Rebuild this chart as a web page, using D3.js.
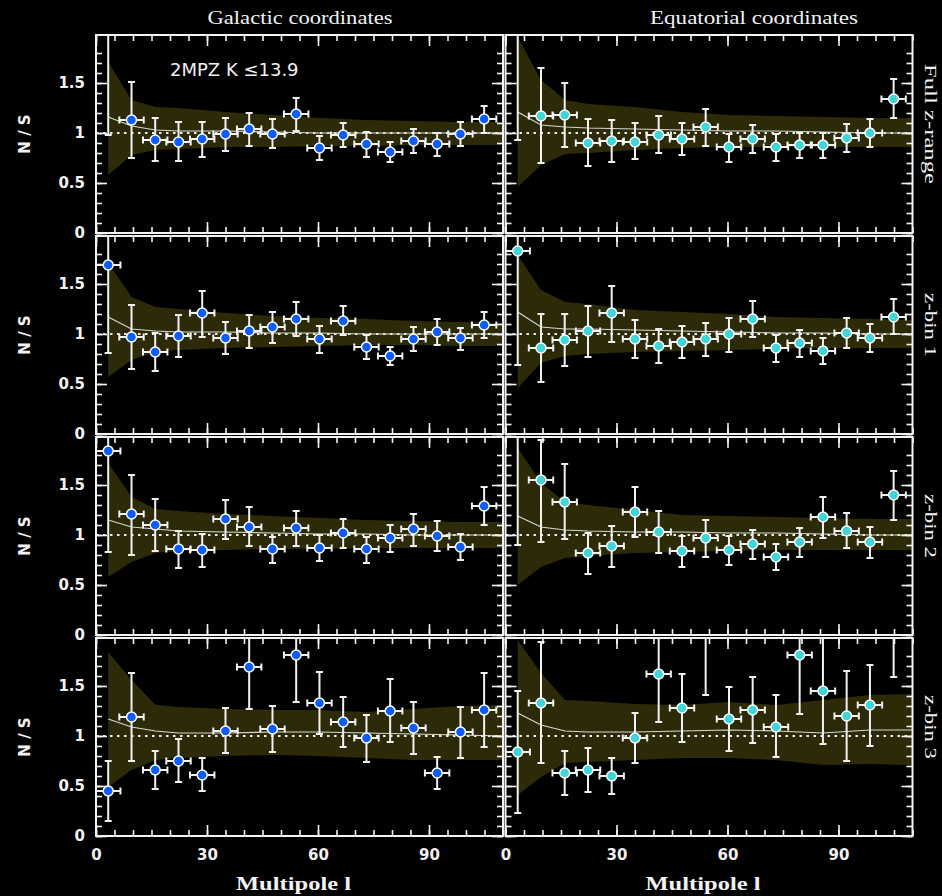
<!DOCTYPE html>
<html>
<head>
<meta charset="utf-8">
<script src="https://cdn.jsdelivr.net/npm/d3@7"></script>
<style>
body { margin: 0; background: #000; }
</style>
</head>
<body>
<div id="chart"></div>
<script>
// multipole bin centres and half width
var multipoles = [3.3, 9.6, 16.0, 22.3, 28.7, 35.0, 41.4, 47.7, 54.1, 60.4, 66.8, 73.1, 79.5, 85.8, 92.2, 98.5, 104.9];
var binHalfWidth = 3.3;

// panels: galFull, eqFull, galBin1, eqBin1, galBin2, eqBin2, galBin3, eqBin3
var rowLabels = ["Full z-range", "z-bin 1", "z-bin 2", "z-bin 3"];
var colTitles = ["Galactic coordinates", "Equatorial coordinates"];

var nsValues = [
  [2.2, 1.13, 0.93, 0.91, 0.94, 0.99, 1.04, 0.99, 1.19, 0.85, 0.98, 0.89, 0.81, 0.92, 0.89, 0.99, 1.14],
  [2.2, 1.17, 1.18, 0.90, 0.92, 0.91, 0.98, 0.94, 1.06, 0.86, 0.94, 0.86, 0.88, 0.88, 0.95, 1.00, 1.34],
  [1.69, 0.97, 0.82, 0.98, 1.21, 0.96, 1.03, 1.07, 1.15, 0.95, 1.13, 0.87, 0.78, 0.95, 1.02, 0.96, 1.09],
  [1.83, 0.86, 0.94, 1.03, 1.21, 0.95, 0.88, 0.92, 0.95, 1.00, 1.15, 0.86, 0.91, 0.83, 1.01, 0.96, 1.17],
  [1.84, 1.21, 1.10, 0.86, 0.85, 1.16, 1.08, 0.86, 1.07, 0.87, 1.02, 0.86, 0.97, 1.06, 0.99, 0.88, 1.29],
  [2.3, 1.55, 1.33, 0.82, 0.89, 1.23, 1.03, 0.84, 0.97, 0.85, 0.91, 0.78, 0.93, 1.18, 1.04, 0.93, 1.40],
  [0.45, 1.19, 0.66, 0.75, 0.61, 1.05, 1.69, 1.07, 1.81, 1.33, 1.14, 0.98, 1.25, 1.08, 0.63, 1.04, 1.26],
  [0.84, 1.33, 0.63, 0.66, 0.60, 0.98, 1.62, 1.28, 2.2, 1.17, 1.26, 1.09, 1.81, 1.45, 1.20, 1.31, 2.2]
];
var nsLow = [
  [0.98, 0.75, 0.72, 0.72, 0.76, 0.82, 0.87, 0.85, 1.02, 0.73, 0.86, 0.76, 0.71, 0.80, 0.77, 0.87, 1.00],
  [0.93, 0.70, 0.86, 0.67, 0.71, 0.74, 0.80, 0.78, 0.87, 0.71, 0.80, 0.72, 0.75, 0.75, 0.81, 0.86, 1.15],
  [0.81, 0.65, 0.63, 0.77, 0.97, 0.80, 0.86, 0.91, 0.98, 0.81, 0.99, 0.75, 0.69, 0.83, 0.89, 0.84, 0.96],
  [0.69, 0.52, 0.68, 0.77, 0.92, 0.76, 0.71, 0.76, 0.78, 0.82, 0.97, 0.72, 0.77, 0.70, 0.86, 0.82, 1.00],
  [0.83, 0.80, 0.84, 0.67, 0.68, 0.96, 0.89, 0.72, 0.89, 0.74, 0.87, 0.72, 0.83, 0.89, 0.84, 0.75, 1.10],
  [0.90, 0.93, 0.96, 0.61, 0.68, 0.98, 0.82, 0.68, 0.78, 0.70, 0.76, 0.65, 0.78, 0.97, 0.87, 0.77, 1.15],
  [0.15, 0.75, 0.47, 0.54, 0.45, 0.83, 1.27, 0.84, 1.34, 1.02, 0.89, 0.74, 0.94, 0.82, 0.47, 0.78, 0.89],
  [0.23, 0.73, 0.41, 0.44, 0.42, 0.73, 1.14, 0.94, 1.41, 0.85, 0.93, 0.79, 1.22, 0.92, 0.75, 0.90, 1.59]
];
var nsHigh = [
  [3.0, 1.51, 1.15, 1.11, 1.11, 1.15, 1.20, 1.14, 1.35, 0.97, 1.10, 1.01, 0.91, 1.04, 1.00, 1.11, 1.27],
  [3.0, 1.65, 1.50, 1.14, 1.13, 1.10, 1.17, 1.10, 1.24, 0.99, 1.08, 0.99, 1.00, 1.00, 1.09, 1.14, 1.54],
  [2.6, 1.29, 1.01, 1.19, 1.43, 1.12, 1.19, 1.22, 1.32, 1.08, 1.28, 0.99, 0.87, 1.07, 1.15, 1.06, 1.22],
  [2.6, 1.20, 1.20, 1.28, 1.48, 1.14, 1.05, 1.08, 1.11, 1.16, 1.33, 0.99, 1.04, 0.96, 1.16, 1.10, 1.35],
  [2.6, 1.60, 1.36, 1.04, 1.01, 1.35, 1.28, 0.98, 1.24, 1.00, 1.16, 0.98, 1.10, 1.21, 1.14, 1.01, 1.48],
  [3.2, 1.95, 1.71, 1.02, 1.09, 1.48, 1.24, 0.99, 1.15, 0.99, 1.05, 0.91, 1.07, 1.38, 1.22, 1.08, 1.64],
  [0.75, 1.63, 0.85, 0.97, 0.78, 1.28, 2.1, 1.30, 2.1, 1.64, 1.39, 1.21, 1.57, 1.34, 0.79, 1.29, 1.63],
  [1.45, 1.94, 0.85, 0.88, 0.78, 1.23, 2.1, 1.62, 3.0, 1.49, 1.59, 1.41, 2.4, 2.1, 1.65, 1.71, 3.0]
];

// random-catalogue band and model curve, sampled at these multipoles
var bandL = [3.3, 9.6, 16.1, 22.3, 35.0, 47.7, 60.4, 73.1, 85.8, 98.5, 110];
var bandUpper = [
  [1.71, 1.33, 1.26, 1.25, 1.21, 1.18, 1.15, 1.13, 1.12, 1.11, 1.11],
  [1.96, 1.53, 1.33, 1.29, 1.26, 1.21, 1.18, 1.17, 1.16, 1.15, 1.15],
  [1.71, 1.37, 1.27, 1.25, 1.21, 1.18, 1.16, 1.15, 1.13, 1.12, 1.11],
  [1.79, 1.44, 1.32, 1.30, 1.24, 1.22, 1.20, 1.17, 1.16, 1.15, 1.14],
  [1.72, 1.38, 1.26, 1.24, 1.21, 1.19, 1.17, 1.15, 1.14, 1.13, 1.13],
  [1.87, 1.52, 1.33, 1.30, 1.25, 1.20, 1.19, 1.18, 1.17, 1.16, 1.16],
  [1.84, 1.56, 1.31, 1.29, 1.27, 1.26, 1.26, 1.24, 1.27, 1.30, 1.31],
  [1.96, 1.63, 1.36, 1.35, 1.32, 1.31, 1.34, 1.31, 1.36, 1.41, 1.42]
];
var bandLower = [
  [0.58, 0.78, 0.83, 0.84, 0.86, 0.86, 0.87, 0.87, 0.88, 0.88, 0.88],
  [0.46, 0.68, 0.79, 0.80, 0.83, 0.85, 0.86, 0.86, 0.86, 0.86, 0.86],
  [0.57, 0.74, 0.82, 0.84, 0.86, 0.87, 0.88, 0.89, 0.89, 0.88, 0.88],
  [0.46, 0.71, 0.78, 0.80, 0.82, 0.83, 0.84, 0.85, 0.86, 0.86, 0.86],
  [0.58, 0.73, 0.82, 0.84, 0.85, 0.86, 0.86, 0.87, 0.87, 0.87, 0.87],
  [0.50, 0.68, 0.77, 0.79, 0.82, 0.83, 0.84, 0.85, 0.85, 0.85, 0.85],
  [0.49, 0.66, 0.76, 0.78, 0.80, 0.81, 0.80, 0.78, 0.76, 0.76, 0.76],
  [0.41, 0.59, 0.73, 0.74, 0.76, 0.78, 0.78, 0.76, 0.71, 0.72, 0.71]
];
var theoryCurve = [
  [1.16, 1.07, 1.03, 1.02, 1.02, 1.01, 1.00, 1.00, 1.00, 1.00, 1.00],
  [1.21, 1.08, 1.06, 1.05, 1.04, 1.03, 1.02, 1.02, 1.01, 1.00, 1.00],
  [1.17, 1.05, 1.03, 1.02, 1.02, 1.01, 1.01, 1.00, 1.00, 1.00, 1.00],
  [1.22, 1.07, 1.05, 1.05, 1.04, 1.03, 1.02, 1.01, 1.01, 1.00, 1.00],
  [1.15, 1.08, 1.06, 1.04, 1.03, 1.02, 1.01, 1.01, 1.00, 1.00, 1.00],
  [1.19, 1.08, 1.05, 1.04, 1.03, 1.03, 1.02, 1.02, 1.01, 1.00, 1.00],
  [1.17, 1.09, 1.05, 1.03, 1.03, 1.04, 1.04, 1.03, 1.02, 1.01, 1.00],
  [1.23, 1.11, 1.05, 1.04, 1.04, 1.05, 1.06, 1.05, 1.03, 1.06, 1.06]
];

var yTickLabels = [0, 0.5, 1, 1.5];
var xTickLabels = [0, 30, 60, 90];

function init() {
    var colLeft = [96, 505.5];
    var rowTop = [35, 236, 437, 638];
    var pw = 407, ph = 198;
    var markerFill = ["#0d5cff", "#40d6d8"];
    var titleX = [300, 754], titleW = [185, 208];
    var rowLabelW = [120, 64, 64, 64];

    var svg = d3.select("#chart").append("svg")
        .attr("width", 942).attr("height", 896)
        .style("background", "#000")
        .style("display", "block");

    var x = d3.scaleLinear().domain([0, 110]).range([0, pw]);
    var y = d3.scaleLinear().domain([0, 1.98]).range([ph, 0]);

    var area = d3.area()
        .x(function(d) { return x(d[0]); })
        .y0(function(d) { return y(d[2]); })
        .y1(function(d) { return y(d[1]); });
    var line = d3.line()
        .x(function(d) { return x(d[0]); })
        .y(function(d) { return y(d[1]); });

    nsValues.forEach(function(vals, i) {
        var col = i % 2, row = Math.floor(i / 2);
        var g = svg.append("g")
            .attr("transform", "translate(" + colLeft[col] + "," + rowTop[row] + ")");

        g.append("clipPath").attr("id", "clip" + i)
            .append("rect").attr("width", pw).attr("height", ph);
        var inner = g.append("g").attr("clip-path", "url(#clip" + i + ")");

        var band = bandL.map(function(l, k) { return [l, bandUpper[i][k], bandLower[i][k]]; });
        inner.append("path").attr("d", area(band)).attr("fill", "#2d2a07");

        inner.append("line")
            .attr("x1", x(0)).attr("x2", x(110))
            .attr("y1", y(1)).attr("y2", y(1))
            .attr("stroke", "#eee").attr("stroke-width", 2)
            .attr("stroke-dasharray", "2.5,4.5");

        var th = bandL.map(function(l, k) { return [l, theoryCurve[i][k]]; });
        inner.append("path").attr("d", line(th))
            .attr("fill", "none").attr("stroke", "#d8d8d0").attr("stroke-width", 1.2);

        var pts = multipoles.map(function(l, k) {
            return { l: l, v: vals[k], lo: nsLow[i][k], hi: nsHigh[i][k] };
        });
        var eb = inner.append("g").attr("stroke", "#f2f2f2").attr("stroke-width", 2).attr("fill", "none");
        var cap = 3.5;
        pts.forEach(function(p) {
            var cx = x(p.l), cy = y(p.v);
            var xl = x(p.l - binHalfWidth), xr = x(p.l + binHalfWidth);
            var yh = y(p.hi), yl = y(p.lo);
            eb.append("path").attr("d",
                "M" + xl + "," + cy + "H" + xr +
                "M" + xl + "," + (cy - cap) + "V" + (cy + cap) +
                "M" + xr + "," + (cy - cap) + "V" + (cy + cap) +
                "M" + cx + "," + yh + "V" + yl +
                "M" + (cx - cap) + "," + yh + "H" + (cx + cap) +
                "M" + (cx - cap) + "," + yl + "H" + (cx + cap));
        });
        inner.selectAll("circle").data(pts).enter().append("circle")
            .attr("cx", function(d) { return x(d.l); })
            .attr("cy", function(d) { return y(d.v); })
            .attr("r", 5)
            .attr("fill", markerFill[col])
            .attr("stroke", "#fff").attr("stroke-width", 1.5);

        // frame and inward ticks on all sides
        g.append("rect").attr("width", pw).attr("height", ph)
            .attr("fill", "none").attr("stroke", "#f4f4f4").attr("stroke-width", 2);

        var xMinor = d3.range(0, 111, 5), xMajor = [0, 30, 60, 90];
        var yMinor = d3.range(0, 19).map(function(k) { return k / 10; }), yMajor = [0, 0.5, 1, 1.5];
        var axes = [
            [d3.axisTop(x).tickValues(xMinor).tickSize(6), "translate(0," + ph + ")"],
            [d3.axisTop(x).tickValues(xMajor).tickSize(11), "translate(0," + ph + ")"],
            [d3.axisBottom(x).tickValues(xMinor).tickSize(6), null],
            [d3.axisBottom(x).tickValues(xMajor).tickSize(11), null],
            [d3.axisRight(y).tickValues(yMinor).tickSize(6), null],
            [d3.axisRight(y).tickValues(yMajor).tickSize(11), null],
            [d3.axisLeft(y).tickValues(yMinor).tickSize(6), "translate(" + pw + ",0)"],
            [d3.axisLeft(y).tickValues(yMajor).tickSize(11), "translate(" + pw + ",0)"]
        ];
        axes.forEach(function(a) {
            var ag = g.append("g").call(a[0].tickFormat(""));
            if (a[1]) ag.attr("transform", a[1]);
            ag.select(".domain").remove();
            ag.selectAll("line").attr("stroke", "#f4f4f4").attr("stroke-width", 1.6);
        });

        if (col === 0) {
            var yl = g.append("g")
                .call(d3.axisLeft(y).tickValues(yTickLabels).tickSize(0).tickPadding(11)
                    .tickFormat(function(d) { return String(d); }));
            yl.select(".domain").remove();
            yl.selectAll("text").attr("fill", "#f2f2f2")
                .style("font", "bold 15px 'DejaVu Sans'");

            g.append("text")
                .attr("transform", "translate(-66," + (ph / 2) + ") rotate(-90)")
                .attr("text-anchor", "middle")
                .attr("fill", "#f2f2f2")
                .style("font", "bold 15px 'DejaVu Sans'")
                .text("N / S");
        } else {
            g.append("text")
                .attr("transform", "translate(" + (pw + 12) + "," + (ph / 2 - 10) + ") rotate(90)")
                .attr("text-anchor", "middle")
                .attr("fill", "#f2f2f2")
                .attr("textLength", rowLabelW[row])
                .attr("lengthAdjust", "spacingAndGlyphs")
                .style("font", "16px 'Liberation Serif'")
                .text(rowLabels[row]);
        }

        if (row === 3) {
            var xl2 = g.append("g").attr("transform", "translate(0," + ph + ")")
                .call(d3.axisBottom(x).tickValues(xTickLabels).tickSize(0).tickPadding(13)
                    .tickFormat(function(d) { return String(d); }));
            xl2.select(".domain").remove();
            xl2.selectAll("text").attr("fill", "#f2f2f2")
                .style("font", "bold 15px 'DejaVu Sans'");

            g.append("text")
                .attr("x", pw / 2 - 6).attr("y", ph + 54)
                .attr("text-anchor", "middle")
                .attr("fill", "#f2f2f2")
                .attr("textLength", 115)
                .attr("lengthAdjust", "spacingAndGlyphs")
                .style("font", "bold 19px 'Liberation Serif'")
                .text("Multipole l");
        }

        if (row === 0) {
            g.append("text")
                .attr("x", titleX[col] - colLeft[col]).attr("y", -11)
                .attr("text-anchor", "middle")
                .attr("fill", "#f2f2f2")
                .attr("textLength", titleW[col])
                .attr("lengthAdjust", "spacingAndGlyphs")
                .style("font", "19px 'Liberation Serif'")
                .text(colTitles[col]);
        }

        if (i === 0) {
            g.append("text")
                .attr("x", 74).attr("y", 41)
                .attr("fill", "#f2f2f2")
                .style("font", "18px 'DejaVu Sans'")
                .text("2MPZ K \u226413.9");
        }
    });
}
window.onload = init;
</script>
</body>
</html>
